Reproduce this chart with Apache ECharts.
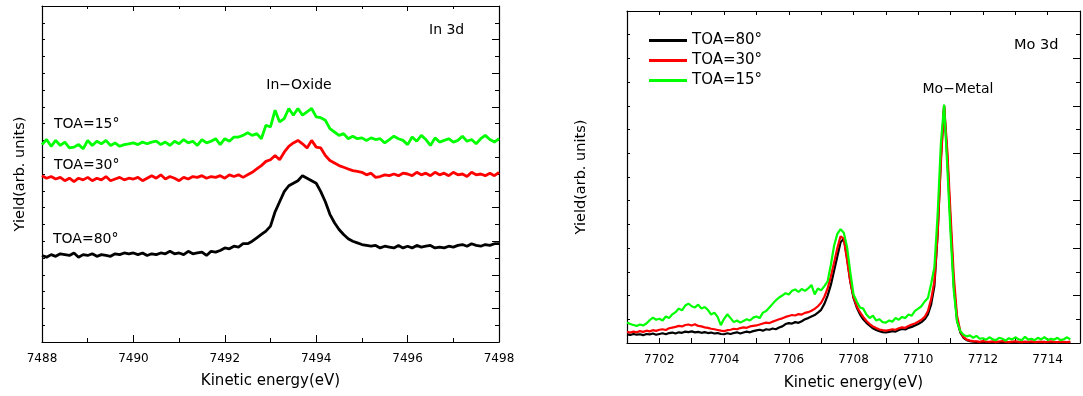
<!DOCTYPE html>
<html>
<head>
<meta charset="utf-8">
<script src="https://cdn.jsdelivr.net/npm/echarts@6/dist/echarts.min.js"></script>
<style>html,body{margin:0;padding:0;background:#fff}#c{width:1083px;height:396px}</style>
</head>
<body>
<div id="c"></div>
<script>
// ---------- In 3d panel ----------
const inEnergy = [
7488.0,7488.1,7488.2,7488.3,7488.4,7488.5,7488.6,7488.7,7488.8,7488.9,
7489.0,7489.1,7489.2,7489.3,7489.4,7489.5,7489.6,7489.7,7489.8,7489.9,
7490.0,7490.1,7490.2,7490.3,7490.4,7490.5,7490.6,7490.7,7490.8,7490.9,
7491.0,7491.1,7491.2,7491.3,7491.4,7491.5,7491.6,7491.7,7491.8,7491.9,
7492.0,7492.1,7492.2,7492.3,7492.4,7492.5,7492.6,7492.7,7492.8,7492.9,
7493.0,7493.1,7493.2,7493.3,7493.4,7493.5,7493.6,7493.7,7493.8,7493.9,
7494.0,7494.1,7494.2,7494.3,7494.4,7494.5,7494.6,7494.7,7494.8,7494.9,
7495.0,7495.1,7495.2,7495.3,7495.4,7495.5,7495.6,7495.7,7495.8,7495.9,
7496.0,7496.1,7496.2,7496.3,7496.4,7496.5,7496.6,7496.7,7496.8,7496.9,
7497.0,7497.1,7497.2,7497.3,7497.4,7497.5,7497.6,7497.7,7497.8,7497.9,
7498.0];
const inToa80 = [
5.15,5.05,5.2,5.1,5.25,5.2,5.15,5.3,5.05,5.2,
5.15,5.25,5.1,5.2,5.15,5.1,5.25,5.2,5.3,5.25,
5.3,5.2,5.3,5.15,5.25,5.2,5.3,5.25,5.4,5.25,
5.3,5.2,5.4,5.25,5.3,5.35,5.15,5.4,5.35,5.45,
5.6,5.55,5.7,5.65,5.85,5.85,6.0,6.2,6.4,6.6,
6.9,7.75,8.35,8.95,9.3,9.45,9.6,9.9,9.75,9.6,
9.45,8.95,8.35,7.6,7.1,6.7,6.4,6.15,6.0,5.9,
5.8,5.75,5.7,5.75,5.6,5.7,5.65,5.6,5.75,5.6,
5.7,5.6,5.75,5.65,5.7,5.75,5.6,5.65,5.6,5.7,
5.65,5.75,5.8,5.7,5.85,5.75,5.7,5.8,5.75,5.85,
5.85];
const inToa30 = [
9.9,9.75,9.85,9.7,9.8,9.6,9.75,9.55,9.75,9.65,
9.8,9.6,9.75,9.65,9.85,9.6,9.7,9.8,9.65,9.75,
9.7,9.8,9.6,9.75,9.9,9.75,9.95,9.7,9.85,9.75,
9.6,9.8,9.7,9.85,9.8,9.9,9.75,9.85,9.8,9.9,
9.75,9.95,9.85,9.95,9.8,9.95,10.1,10.3,10.5,10.75,
10.85,11.1,10.85,11.3,11.65,11.85,12.0,11.8,11.55,12.0,
11.6,11.55,11.1,10.8,10.65,10.5,10.4,10.3,10.2,10.15,
10.1,9.95,10.05,9.8,9.85,9.95,9.9,10.0,9.9,10.05,
10.0,9.9,10.1,9.95,10.05,9.9,10.1,9.95,10.05,9.9,
10.1,9.95,10.0,9.85,10.1,9.95,10.0,9.9,10.05,9.9,
10.1];
const inToa15 = [
11.75,12.05,11.65,12.0,11.7,11.9,11.55,11.6,11.75,11.5,
12.0,11.7,11.95,11.8,12.0,11.7,11.85,11.65,11.75,11.8,
11.85,11.75,11.9,11.8,11.9,11.95,11.75,11.9,11.7,11.95,
11.8,12.05,11.85,11.95,11.7,12.05,11.85,11.95,12.1,11.75,
12.1,11.95,12.2,12.2,12.3,12.45,12.3,12.4,12.1,12.9,
12.8,13.8,13.1,13.3,13.9,13.5,13.9,13.5,13.7,13.9,
13.4,13.35,13.2,12.7,12.5,12.3,12.4,12.1,12.25,12.1,
12.15,12.0,12.15,12.05,12.1,11.85,12.05,12.25,12.1,12.0,
11.75,12.2,11.95,12.3,12.05,11.7,12.15,11.9,12.0,12.1,
11.9,12.0,12.25,11.95,12.05,11.8,12.1,12.3,12.05,11.9,
12.1];

// ---------- Mo 3d panel ----------
const moEnergy = [
7701.0,7701.1,7701.2,7701.3,7701.4,7701.5,7701.6,7701.7,7701.8,7701.9,
7702.0,7702.1,7702.2,7702.3,7702.4,7702.5,7702.6,7702.7,7702.8,7702.9,
7703.0,7703.1,7703.2,7703.3,7703.4,7703.5,7703.6,7703.7,7703.8,7703.9,
7704.0,7704.1,7704.2,7704.3,7704.4,7704.5,7704.6,7704.7,7704.8,7704.9,
7705.0,7705.1,7705.2,7705.3,7705.4,7705.5,7705.6,7705.7,7705.8,7705.9,
7706.0,7706.1,7706.2,7706.3,7706.4,7706.5,7706.6,7706.7,7706.8,7706.9,
7707.0,7707.1,7707.2,7707.3,7707.4,7707.5,7707.6,7707.7,7707.8,7707.9,
7708.0,7708.1,7708.2,7708.3,7708.4,7708.5,7708.6,7708.7,7708.8,7708.9,
7709.0,7709.1,7709.2,7709.3,7709.4,7709.5,7709.6,7709.7,7709.8,7709.9,
7710.0,7710.1,7710.2,7710.3,7710.4,7710.5,7710.6,7710.7,7710.8,7710.9,
7711.0,7711.1,7711.2,7711.3,7711.4,7711.5,7711.6,7711.7,7711.8,7711.9,
7712.0,7712.1,7712.2,7712.3,7712.4,7712.5,7712.6,7712.7,7712.8,7712.9,
7713.0,7713.1,7713.2,7713.3,7713.4,7713.5,7713.6,7713.7,7713.8,7713.9,
7714.0,7714.1,7714.2,7714.3,7714.4,7714.5,7714.6,7714.7];
const moToa80 = [
0.36,0.34,0.38,0.35,0.37,0.33,0.38,0.36,0.40,0.35,
0.38,0.41,0.37,0.42,0.44,0.40,0.45,0.43,0.48,0.46,
0.49,0.45,0.47,0.43,0.46,0.42,0.44,0.40,0.42,0.38,
0.37,0.41,0.38,0.42,0.45,0.40,0.44,0.48,0.45,0.50,
0.53,0.56,0.52,0.58,0.56,0.61,0.58,0.65,0.70,0.80,
0.84,0.82,0.88,0.85,0.92,1.00,1.05,1.12,1.18,1.28,
1.40,1.65,2.00,2.45,3.05,3.65,4.25,4.40,3.60,2.60,
1.90,1.50,1.21,1.00,0.85,0.73,0.62,0.55,0.50,0.46,
0.45,0.47,0.50,0.48,0.55,0.59,0.57,0.64,0.68,0.74,
0.80,0.88,1.00,1.21,1.63,2.40,4.60,7.80,10.0,7.80,
5.00,2.40,0.95,0.45,0.22,0.12,0.08,0.06,0.05,0.04,
0.05,0.03,0.04,0.03,0.05,0.04,0.03,0.04,0.02,0.04,
0.03,0.05,0.03,0.02,0.04,0.03,0.02,0.04,0.03,0.05,
0.02,0.03,0.04,0.02,0.03,0.04,0.02,0.03];
const moToa30 = [
0.47,0.44,0.48,0.45,0.50,0.47,0.52,0.49,0.54,0.51,
0.56,0.58,0.55,0.62,0.65,0.68,0.72,0.70,0.76,0.78,
0.74,0.79,0.72,0.70,0.66,0.64,0.60,0.58,0.55,0.52,
0.50,0.54,0.56,0.60,0.58,0.63,0.66,0.64,0.70,0.72,
0.74,0.78,0.82,0.86,0.84,0.90,0.95,1.00,1.04,1.10,
1.14,1.18,1.16,1.22,1.20,1.27,1.30,1.36,1.44,1.55,
1.70,1.95,2.30,2.80,3.40,4.00,4.50,4.40,3.50,2.60,
1.95,1.55,1.30,1.10,0.93,0.80,0.70,0.63,0.57,0.54,
0.52,0.55,0.58,0.56,0.62,0.66,0.64,0.72,0.78,0.82,
0.90,0.98,1.10,1.35,1.85,2.60,4.60,7.60,10.0,8.10,
5.40,2.80,1.15,0.50,0.25,0.14,0.10,0.08,0.07,0.05,
0.08,0.06,0.05,0.07,0.04,0.06,0.08,0.05,0.04,0.06,
0.07,0.05,0.04,0.06,0.05,0.07,0.04,0.05,0.06,0.04,
0.05,0.07,0.05,0.04,0.06,0.05,0.04,0.06];
const moToa15 = [
0.86,0.80,0.76,0.72,0.78,0.74,0.82,0.96,1.07,0.98,
1.02,0.95,1.12,1.05,1.21,1.30,1.45,1.38,1.58,1.66,
1.55,1.50,1.62,1.45,1.52,1.40,1.20,1.28,1.10,0.75,
1.02,1.21,1.05,0.88,0.95,0.86,0.93,1.00,0.95,1.07,
1.12,1.05,1.28,1.35,1.50,1.65,1.80,1.92,2.00,2.10,
2.05,2.20,2.26,2.15,2.28,2.20,2.30,2.45,2.05,2.30,
2.22,2.40,2.60,3.30,4.10,4.60,4.80,4.65,4.05,3.00,
2.05,1.75,1.50,1.45,1.20,1.05,1.15,0.95,1.00,0.88,
0.86,0.95,0.90,1.05,0.98,1.10,1.05,1.20,1.15,1.35,
1.45,1.55,1.75,1.90,2.50,3.20,5.40,8.40,10.05,7.40,
4.60,2.20,0.90,0.50,0.35,0.28,0.32,0.22,0.30,0.18,
0.20,0.14,0.24,0.16,0.12,0.22,0.18,0.10,0.20,0.15,
0.24,0.16,0.12,0.26,0.14,0.18,0.12,0.22,0.15,0.25,
0.13,0.18,0.14,0.22,0.12,0.16,0.24,0.15];

const seriesNames = ['TOA=80°', 'TOA=30°', 'TOA=15°'];
const seriesColors = ['#000000', '#ff0000', '#00ff00'];

const FONT = '"DejaVu Sans", "Noto Sans", sans-serif';
const zip = (xs, ys) => xs.map((x, i) => [x, ys[i]]);

const chart = echarts.init(document.getElementById('c'), null, {renderer: 'canvas'});

const axLine = {show: true, onZero: false, lineStyle: {color: '#000', width: 1.2}};
const lbl = {color: '#000', fontSize: 12, fontFamily: FONT};
const tickStyle = {color: '#000', width: 1};

function evenLabel(v) { return (Math.round(v) % 2 === 0) ? String(Math.round(v)) : ''; }

const option = {
  animation: false,
  backgroundColor: '#fff',
  grid: [
    {left: 42, top: 6, width: 457, height: 336},
    {left: 627, top: 11, width: 455, height: 335}
  ],
  legend: {
    data: seriesNames.map((n, i) => ({name: n, icon: 'rect', itemStyle: {color: seriesColors[i]}})),
    orient: 'vertical',
    left: 644, top: 27,
    itemWidth: 38, itemHeight: 3, itemGap: 3,
    textStyle: {fontSize: 15, fontFamily: FONT, color: '#000', lineHeight: 17},
    selectedMode: false
  },
  xAxis: [
    {gridIndex: 0, type: 'value', min: 7488, max: 7498, interval: 2, position: 'bottom',
     axisLine: axLine, splitLine: {show: false},
     axisTick: {inside: true, length: 7, lineStyle: tickStyle},
     minorTick: {show: true, splitNumber: 2, length: 4, lineStyle: tickStyle},
     axisLabel: Object.assign({margin: 11, formatter: v => String(v)}, lbl),
     name: 'Kinetic energy(eV)', nameLocation: 'middle', nameGap: 32,
     nameTextStyle: {fontSize: 15, fontFamily: FONT, color: '#000'}},
    {gridIndex: 0, type: 'value', min: 7488, max: 7498, interval: 2, position: 'top',
     axisLine: axLine, splitLine: {show: false}, axisLabel: {show: false},
     axisTick: {inside: true, length: 5, lineStyle: tickStyle},
     minorTick: {show: true, splitNumber: 2, length: 3, lineStyle: tickStyle}},
    {gridIndex: 1, type: 'value', min: 7701, max: 7715, interval: 1, position: 'bottom',
     axisLine: axLine, splitLine: {show: false},
     axisTick: {inside: true, length: 5, lineStyle: tickStyle},
     axisLabel: Object.assign({margin: 11, formatter: evenLabel}, lbl),
     name: 'Kinetic energy(eV)', nameLocation: 'middle', nameGap: 33,
     nameTextStyle: {fontSize: 15, fontFamily: FONT, color: '#000'}},
    {gridIndex: 1, type: 'value', min: 7701, max: 7715, interval: 1, position: 'top',
     axisLine: axLine, splitLine: {show: false}, axisLabel: {show: false},
     axisTick: {inside: true, length: 4, lineStyle: tickStyle}}
  ],
  yAxis: [
    {gridIndex: 0, type: 'value', min: 0, max: 20, interval: 1, position: 'left',
     axisLine: axLine, splitLine: {show: false}, axisLabel: {show: false},
     axisTick: {inside: true, length: 3, lineStyle: tickStyle},
     name: 'Yield(arb. units)', nameLocation: 'middle', nameGap: 14,
     nameTextStyle: {fontSize: 14.5, fontFamily: FONT, color: '#000'}},
    {gridIndex: 0, type: 'value', min: 0, max: 20, interval: 2, position: 'right',
     axisLine: axLine, splitLine: {show: false}, axisLabel: {show: false},
     axisTick: {inside: true, length: 7, lineStyle: tickStyle},
     minorTick: {show: true, splitNumber: 2, length: 4, lineStyle: tickStyle}},
    {gridIndex: 1, type: 'value', min: 0, max: 14, interval: 1, position: 'left',
     axisLine: axLine, splitLine: {show: false}, axisLabel: {show: false},
     axisTick: {inside: true, length: 3, lineStyle: tickStyle},
     name: 'Yield(arb. units)', nameLocation: 'middle', nameGap: 38,
     nameTextStyle: {fontSize: 14.5, fontFamily: FONT, color: '#000'}},
    {gridIndex: 1, type: 'value', min: 0, max: 14, interval: 2, position: 'right',
     axisLine: axLine, splitLine: {show: false}, axisLabel: {show: false},
     axisTick: {inside: true, length: 7, lineStyle: tickStyle},
     minorTick: {show: true, splitNumber: 2, length: 4, lineStyle: tickStyle}}
  ],
  series: [
    {name: 'In ' + seriesNames[0], type: 'line', xAxisIndex: 0, yAxisIndex: 0, data: zip(inEnergy, inToa80),
     symbol: 'none', lineStyle: {color: seriesColors[0], width: 2.8}, itemStyle: {color: seriesColors[0]}},
    {name: 'In ' + seriesNames[1], type: 'line', xAxisIndex: 0, yAxisIndex: 0, data: zip(inEnergy, inToa30),
     symbol: 'none', lineStyle: {color: seriesColors[1], width: 2.8}, itemStyle: {color: seriesColors[1]}},
    {name: 'In ' + seriesNames[2], type: 'line', xAxisIndex: 0, yAxisIndex: 0, data: zip(inEnergy, inToa15),
     symbol: 'none', lineStyle: {color: seriesColors[2], width: 2.8}, itemStyle: {color: seriesColors[2]}},
    {name: seriesNames[0], type: 'line', xAxisIndex: 2, yAxisIndex: 2, data: zip(moEnergy, moToa80),
     symbol: 'none', lineStyle: {color: seriesColors[0], width: 2.2}, itemStyle: {color: seriesColors[0]}},
    {name: seriesNames[1], type: 'line', xAxisIndex: 2, yAxisIndex: 2, data: zip(moEnergy, moToa30),
     symbol: 'none', lineStyle: {color: seriesColors[1], width: 2.2}, itemStyle: {color: seriesColors[1]}},
    {name: seriesNames[2], type: 'line', xAxisIndex: 2, yAxisIndex: 2, data: zip(moEnergy, moToa15),
     symbol: 'none', lineStyle: {color: seriesColors[2], width: 2.2}, itemStyle: {color: seriesColors[2]}}
  ],
  graphic: [
    {type: 'text', style: {text: 'In 3d', x: 429, y: 30, font: '14px ' + FONT, fill: '#000', verticalAlign: 'middle'}},
    {type: 'text', style: {text: 'In−Oxide', x: 299, y: 85, font: '14px ' + FONT, fill: '#000', align: 'center', verticalAlign: 'middle'}},
    {type: 'text', style: {text: 'TOA=15°', x: 54, y: 124, font: '14px ' + FONT, fill: '#000', verticalAlign: 'middle'}},
    {type: 'text', style: {text: 'TOA=30°', x: 54, y: 165, font: '14px ' + FONT, fill: '#000', verticalAlign: 'middle'}},
    {type: 'text', style: {text: 'TOA=80°', x: 53, y: 239, font: '14px ' + FONT, fill: '#000', verticalAlign: 'middle'}},
    {type: 'text', style: {text: 'Mo 3d', x: 1014, y: 45, font: '14.5px ' + FONT, fill: '#000', verticalAlign: 'middle'}},
    {type: 'text', style: {text: 'Mo−Metal', x: 958, y: 89, font: '14px ' + FONT, fill: '#000', align: 'center', verticalAlign: 'middle'}}
  ]
};
chart.setOption(option);
</script>
</body>
</html>
